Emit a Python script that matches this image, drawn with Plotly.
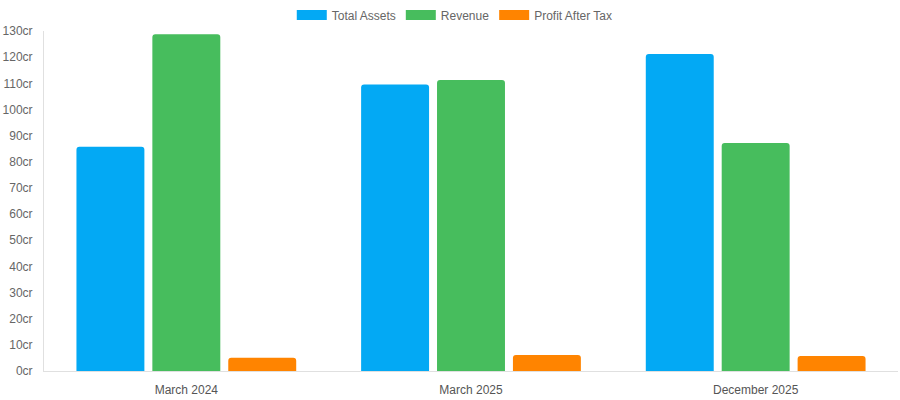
import plotly.graph_objects as go

categories = ["March 2024", "March 2025", "December 2025"]
total_assets = [85.7, 109.5, 121.2]
revenue = [128.8, 111.3, 87.2]
profit_after_tax = [5.1, 6.1, 5.75]

series = [
    ("Total Assets", total_assets, "#03a9f4"),
    ("Revenue", revenue, "#47bd5d"),
    ("Profit After Tax", profit_after_tax, "#ff8400"),
]

fig = go.Figure()
for name, vals, color in series:
    fig.add_trace(go.Bar(x=categories, y=vals, name=name, marker_color=color,
                         marker_line_width=0, showlegend=False))
for name, vals, color in series:
    fig.add_trace(go.Scatter(x=[None], y=[None], mode="lines", name=name,
                             line=dict(color=color, width=12), showlegend=True))

fig.update_layout(
    width=900, height=400,
    margin=dict(l=44, r=2, t=31, b=29, autoexpand=False),
    paper_bgcolor="white", plot_bgcolor="white",
    font=dict(family="Liberation Sans, Arial, sans-serif", size=12, color="#666666"),
    barmode="group", bargap=0.2, bargroupgap=0.105, barcornerradius=3,
    legend=dict(orientation="h", x=0.481, xanchor="center", y=0.999, yanchor="top",
                yref="container", font=dict(size=12, color="#666666"),
                traceorder="normal"),
    showlegend=True,
)
fig.update_xaxes(showgrid=False, showline=True, linecolor="#e0e0e0", linewidth=1,
                 ticks="", ticklabelstandoff=8, tickfont=dict(size=12, color="#555555"))
fig.update_yaxes(range=[0, 130], dtick=10, ticksuffix="cr", showgrid=False,
                 showline=True, linecolor="#e0e0e0", linewidth=1, zeroline=False,
                 ticks="", ticklabelstandoff=8, tickfont=dict(size=12, color="#666666"))

fig.write_html("out.html")
